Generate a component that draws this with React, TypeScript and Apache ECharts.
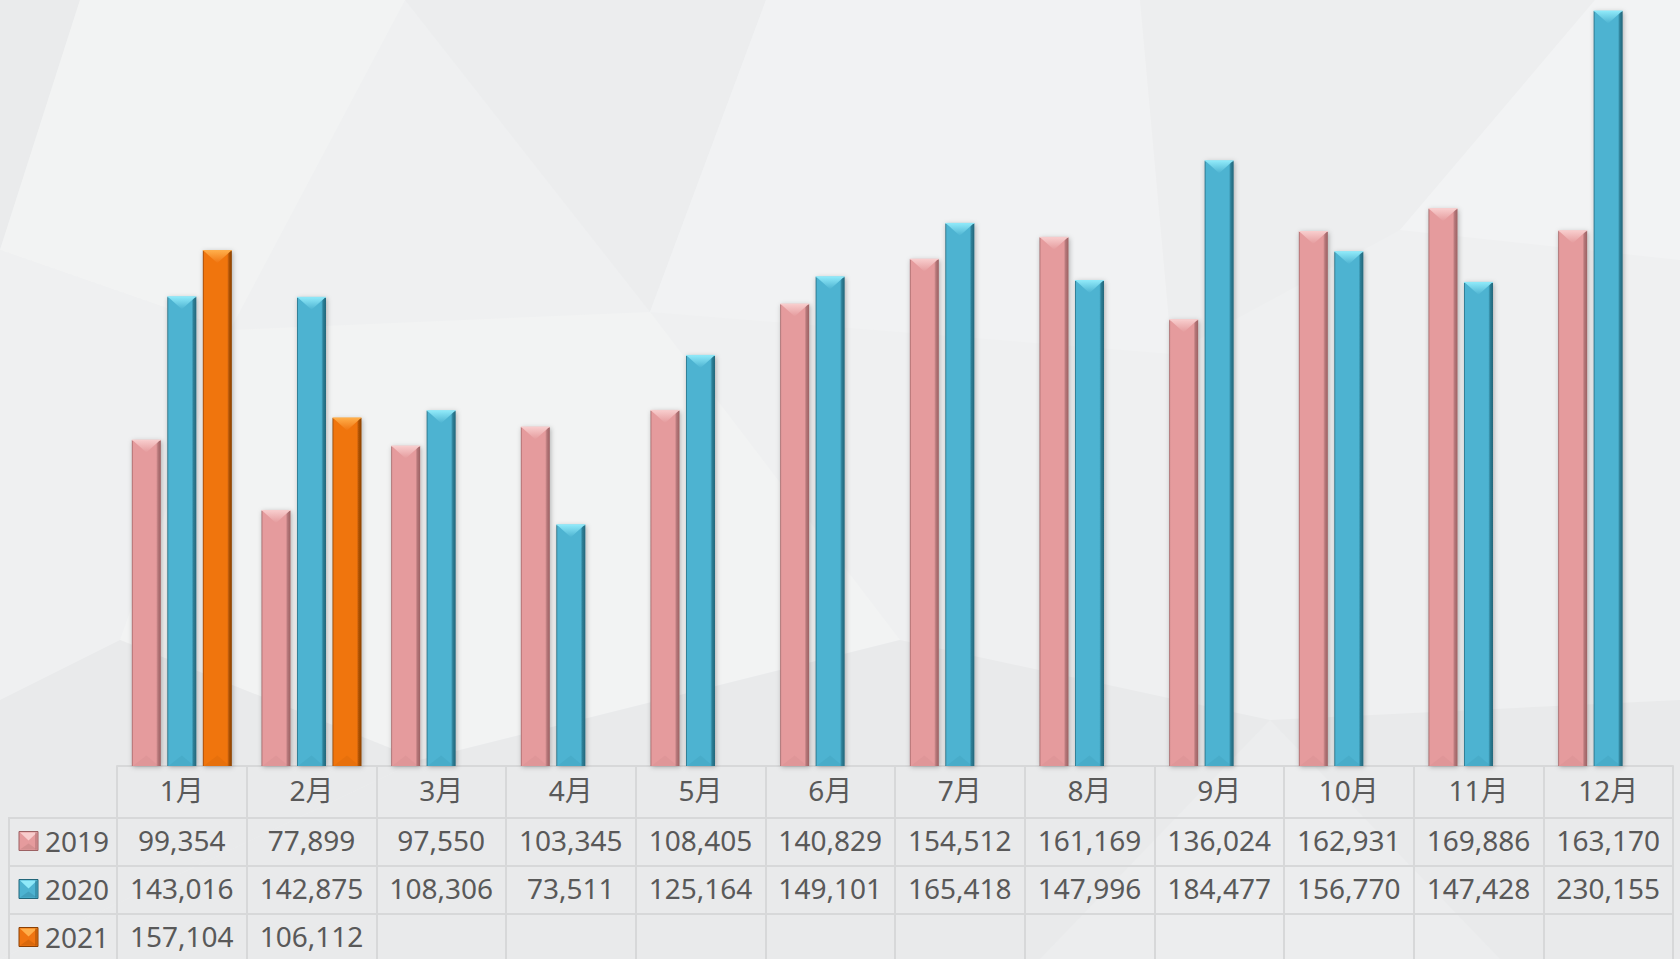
import React, { useEffect, useRef } from "react";
import * as echarts from "echarts";

const months = ["1月", "2月", "3月", "4月", "5月", "6月", "7月", "8月", "9月", "10月", "11月", "12月"];
const seriesNames = ["2019", "2020", "2021"];
const values2019 = [99354, 77899, 97550, 103345, 108405, 140829, 154512, 161169, 136024, 162931, 169886, 163170];
const values2020 = [143016, 142875, 108306, 73511, 125164, 149101, 165418, 147996, 184477, 156770, 147428, 230155];
const values2021: (number | null)[] = [157104, 106112, null, null, null, null, null, null, null, null, null, null];
const allValues = [values2019, values2020, values2021];

const palette = [
  { main: "#E59B9D", light: "#F8CDCD", dark: "#B57779", edge: "#9C6163" },
  { main: "#4DB3D1", light: "#8FE9F9", dark: "#2D7F97", edge: "#22667A" },
  { main: "#F07511", light: "#FFAE4A", dark: "#B05306", edge: "#8A4004" },
];

const FONT = "'Noto Sans', 'Noto Sans CJK SC', sans-serif";
const TEXT = "#595959";
const LINE = "#D7D8D9";

const fmt = (v: number | null) => (v == null ? "" : v.toLocaleString("en-US"));

function bodyFill(c: any) {
  return new echarts.graphic.LinearGradient(0, 0, 1, 0, [
    { offset: 0, color: c.edge },
    { offset: 0.05, color: c.main },
    { offset: 0.84, color: c.main },
    { offset: 0.9, color: c.dark },
    { offset: 1, color: c.edge },
  ]);
}

function makeRender(s: number) {
  const c = palette[s];
  return (params: any, api: any) => {
    const v = api.value(1);
    if (v == null || isNaN(v)) return;
    const cat = api.value(0);
    const top = api.coord([cat, v]);
    const base = api.coord([cat, 0]);
    const band = api.size([1, 0])[0];
    const k = band / 129.67;
    const w = 29 * k;
    const cx = top[0] + (s - 1) * 35.5 * k;
    const x = cx - w / 2;
    const yTop = top[1];
    const yBase = base[1];
    const h = yBase - yTop;
    const bev = Math.min(12.5, h / 2);
    return {
      type: "group",
      children: [
        {
          type: "rect",
          shape: { x, y: yTop, width: w, height: h },
          style: {
            fill: bodyFill(c),
            shadowBlur: 5,
            shadowOffsetX: 1,
            shadowOffsetY: 1,
            shadowColor: "rgba(0,0,0,0.28)",
          },
        },
        {
          type: "polygon",
          shape: { points: [[x + 0.5, yTop], [x + w - 0.5, yTop], [cx, yTop + bev]] },
          style: {
            fill: new echarts.graphic.LinearGradient(0, 0, 0, 1, [
              { offset: 0, color: c.light },
              { offset: 1, color: c.main },
            ]),
          },
        },
        {
          type: "polygon",
          shape: { points: [[x + 1, yBase], [x + w - 2, yBase], [cx, yBase - bev * 0.85]] },
          style: { fill: c.dark, opacity: 0.12 },
        },
        {
          type: "line",
          shape: { x1: x, y1: yTop, x2: x + w, y2: yTop },
          style: { stroke: c.light, lineWidth: 1 },
        },
      ],
    };
  };
}

// background facets (subtle)
const bgPolys: { pts: number[][]; color: string }[] = [
  { pts: [[0, 0], [80, 0], [0, 250]], color: "#eaebec" },
  { pts: [[80, 0], [405, 0], [230, 330], [0, 250]], color: "#f2f3f3" },
  { pts: [[405, 0], [766, 0], [650, 312]], color: "#ecedee" },
  { pts: [[766, 0], [1140, 0], [1172, 354], [650, 312]], color: "#f1f2f3" },
  { pts: [[1140, 0], [1595, 0], [1400, 230], [1172, 354]], color: "#edeeef" },
  { pts: [[1595, 0], [1680, 0], [1680, 260], [1400, 230]], color: "#f2f3f4" },
  { pts: [[0, 250], [230, 330], [120, 640], [0, 700]], color: "#eff0f1" },
  { pts: [[230, 330], [650, 312], [900, 640], [420, 760], [120, 640]], color: "#f2f3f3" },
  { pts: [[0, 700], [120, 640], [420, 760], [0, 959]], color: "#e9eaeb" },
  { pts: [[420, 760], [900, 640], [1270, 720], [1680, 700], [1680, 959], [0, 959]], color: "#e9eaeb" },
  { pts: [[1270, 720], [1500, 959], [1040, 959]], color: "#ecedee" },
];

function legendKey(y: number, c: any) {
  const x = 19, s = 19;
  return {
    type: "group",
    children: [
      { type: "rect", shape: { x, y, width: s, height: s }, style: { fill: c.main, stroke: c.edge, lineWidth: 1 } },
      { type: "polygon", shape: { points: [[x + 1, y + 1], [x + s - 1, y + 1], [x + s / 2, y + 9]] }, style: { fill: c.light } },
      { type: "polygon", shape: { points: [[x + 1, y + s - 1], [x + s - 1, y + s - 1], [x + s / 2, y + 12]] }, style: { fill: c.dark, opacity: 0.35 } },
      { type: "rect", shape: { x: x + s - 3, y: y + 1, width: 2, height: s - 2 }, style: { fill: c.dark, opacity: 0.6 } },
    ],
  };
}

export default function App() {
  const ref = useRef<HTMLDivElement>(null);
  useEffect(() => {
    if (!ref.current) return;
    const chart = echarts.init(ref.current, undefined, { renderer: "svg" });

    const rowLines = [818, 866, 914];
    const rowCenters = [841, 889, 937];

    const graphics: any[] = [];
    bgPolys.forEach((p) =>
      graphics.push({ type: "polygon", z: -10, silent: true, shape: { points: p.pts }, style: { fill: p.color } })
    );
    rowLines.forEach((y) =>
      graphics.push({ type: "line", shape: { x1: 9, y1: y, x2: 118, y2: y }, style: { stroke: LINE, lineWidth: 2 } })
    );
    graphics.push({ type: "line", shape: { x1: 9, y1: 817, x2: 9, y2: 959 }, style: { stroke: LINE, lineWidth: 2 } });
    seriesNames.forEach((name, i) => {
      graphics.push(legendKey(rowCenters[i] - 9.5, palette[i]));
      graphics.push({
        type: "text",
        x: 45,
        y: rowCenters[i],
        style: { text: name, font: `28px ${FONT}`, fill: TEXT, verticalAlign: "middle", align: "left" },
      });
    });

    const tableAxis = (data: string[], offset: number) => ({
      type: "category",
      position: "bottom",
      offset,
      data,
      axisLine: { show: true, lineStyle: { color: LINE, width: 2 } },
      axisTick: { show: true, interval: 0, length: 48, lineStyle: { color: LINE, width: 2 } },
      axisLabel: { interval: 0, fontSize: 28, fontFamily: FONT, color: TEXT, margin: 8 },
      splitLine: { show: false },
    });

    chart.setOption({
      animation: false,
      backgroundColor: "#eff0f1",
      graphic: graphics,
      grid: { left: 117, right: 7, top: 0, bottom: 193, containLabel: false },
      xAxis: [
        {
          type: "category",
          position: "bottom",
          data: months,
          axisLine: { show: true, lineStyle: { color: LINE, width: 2 } },
          axisTick: { show: true, interval: 0, length: 52, lineStyle: { color: LINE, width: 2 } },
          axisLabel: { interval: 0, fontSize: 28, fontFamily: FONT, color: TEXT, margin: 10 },
          splitLine: { show: false },
        },
        tableAxis(values2019.map(fmt), 52),
        tableAxis(values2020.map(fmt), 100),
        tableAxis(values2021.map(fmt), 148),
      ],
      yAxis: { type: "value", min: 0, max: 233500, show: false, splitLine: { show: false } },
      series: allValues.map((vals, s) => ({
        type: "custom",
        name: seriesNames[s],
        xAxisIndex: 0,
        yAxisIndex: 0,
        renderItem: makeRender(s),
        encode: { x: 0, y: 1 },
        data: vals.map((v, i) => (v == null ? null : [i, v])).filter((d) => d != null),
        clip: false,
        z: 5,
      })),
    });
    return () => chart.dispose();
  }, []);
  return (
    <div
      ref={ref}
      style={{ position: "fixed", left: 0, top: 0, width: 1680, height: 959 }}
    />
  );
}
